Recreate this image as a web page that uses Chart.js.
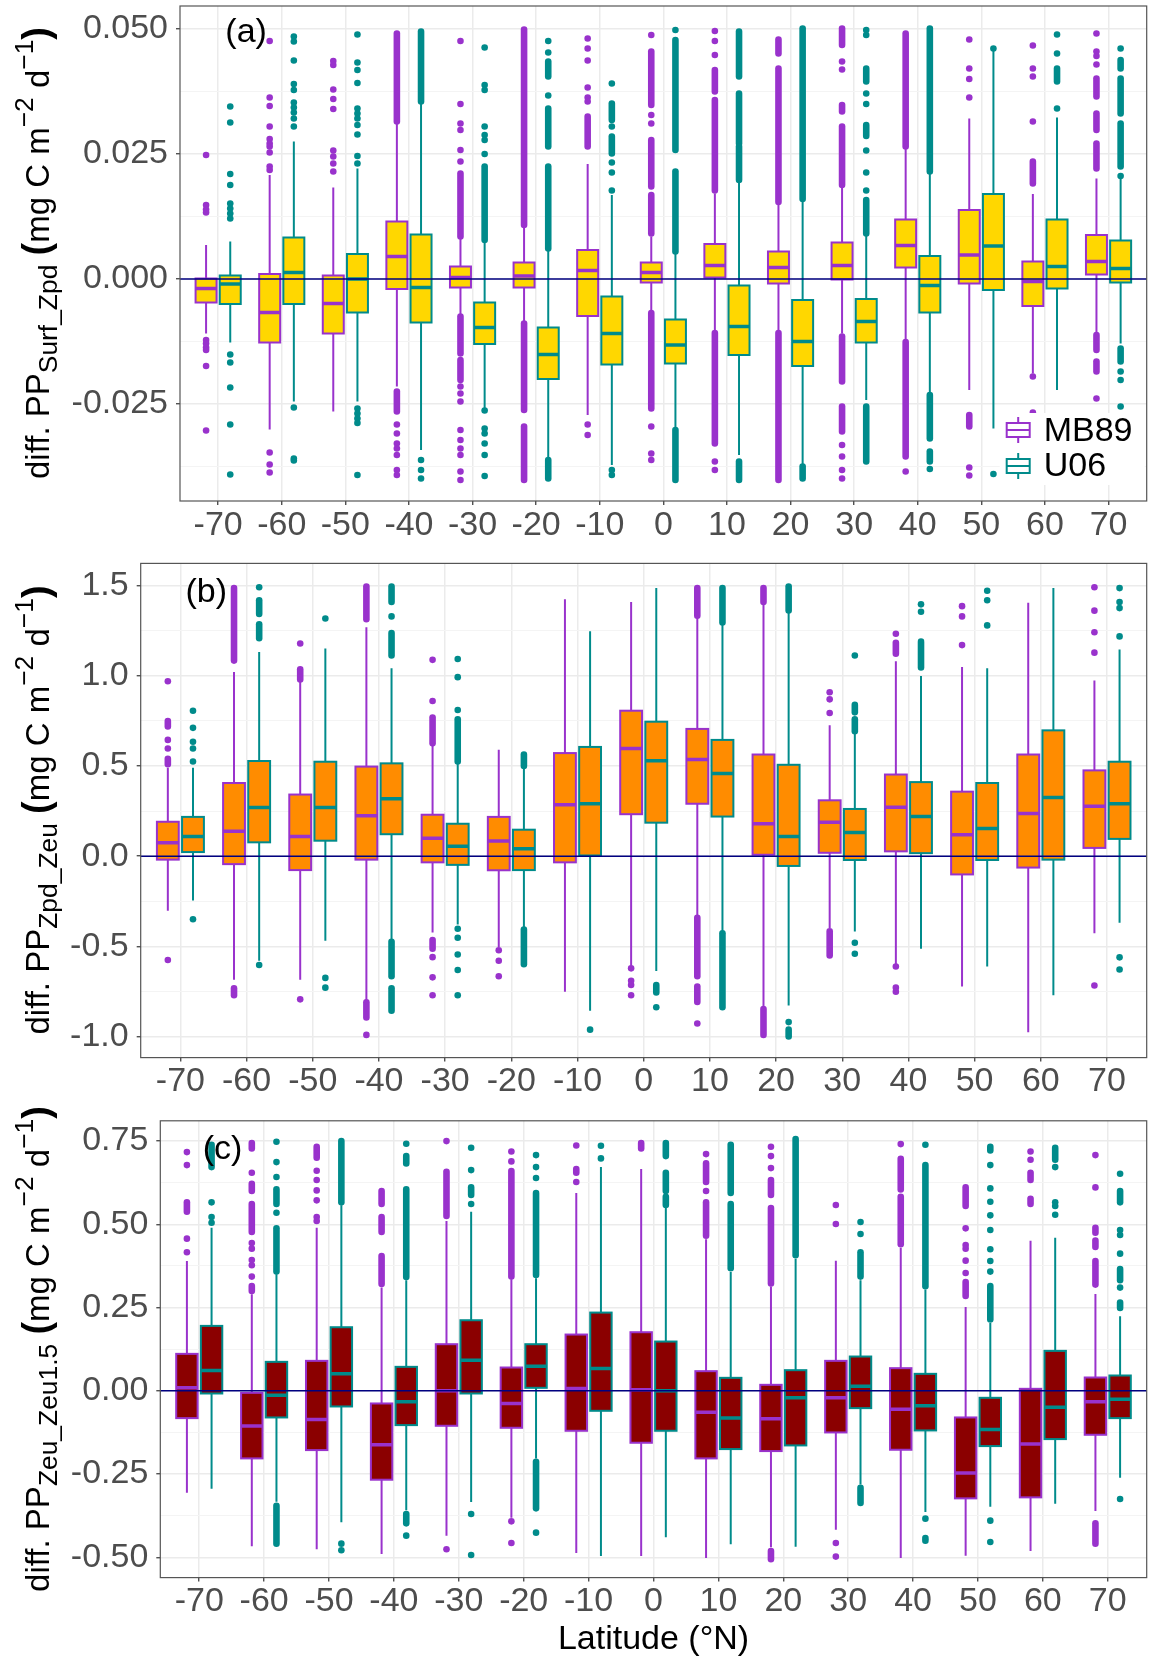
<!DOCTYPE html>
<html>
<head>
<meta charset="utf-8">
<script src="https://cdn.jsdelivr.net/npm/chart.js@4.4.0/dist/chart.umd.min.js"></script>
<style>
  body { margin: 0; background: #fff; width: 1150px; height: 1661px; position: relative; overflow: hidden;
         font-family: 'Liberation Sans', Arial, sans-serif; }
  canvas { position: absolute; left: 0; }
  .ytitle { position: absolute; white-space: nowrap; font-size: 33px; color: #000; line-height: 1;
            transform: translate(-50%, -50%) rotate(-90deg); }
  .ytitle sub { font-size: 0.8em; vertical-align: -0.3em; }
  .ytitle sup { font-size: 0.8em; vertical-align: 0.6em; }
  .paren { font-size: 1.15em; font-weight: bold; }
</style>
</head>
<body>
<canvas id="chartA" width="1150" height="546" style="top:0px"></canvas>
<canvas id="chartB" width="1150" height="554" style="top:546px"></canvas>
<canvas id="chartC" width="1150" height="561" style="top:1100px"></canvas>

<div class="ytitle" style="left:36px;top:253px">diff. PP<sub>Surf_Zpd</sub> <span class="paren">(</span>mg C m<sup>−2</sup> d<sup>−1</sup><span class="paren">)</span></div>
<div class="ytitle" style="left:36px;top:810px">diff. PP<sub>Zpd_Zeu</sub> <span class="paren">(</span>mg C m<sup>−2</sup> d<sup>−1</sup><span class="paren">)</span></div>
<div class="ytitle" style="left:36px;top:1349px">diff. PP<sub>Zeu_Zeu1.5</sub> <span class="paren">(</span>mg C m<sup>−2</sup> d<sup>−1</sup><span class="paren">)</span></div>

<script>
// Latitude bins (x axis)
const latitudes = [-70, -60, -50, -40, -30, -20, -10, 0, 10, 20, 30, 40, 50, 60, 70];
const xTickLabels = ['-70', '-60', '-50', '-40', '-30', '-20', '-10', '0', '10', '20', '30', '40', '50', '60', '70'];
const seriesNames = ['MB89', 'U06'];

// ---- panel (a) : PP Surf_Zpd ----
const aYTicks = [-0.025, 0, 0.025, 0.05];
const aYLabels = ['-0.025', '0.000', '0.025', '0.050'];
const aYMinor = [-0.0375, -0.0125, 0.0125, 0.0375];

const aMbQ3 = [0.0001, 0.001, 0.0007, 0.0115, 0.0025, 0.0033, 0.0058, 0.0033, 0.007, 0.0055, 0.0073, 0.0119, 0.0138, 0.0035, 0.0088];
const aMbMed = [-0.0019, -0.0067, -0.0049, 0.0045, 0.0003, 0.0006, 0.0017, 0.0013, 0.0027, 0.0023, 0.0027, 0.0067, 0.0048, -0.0005, 0.0035];
const aMbQ1 = [-0.0047, -0.0127, -0.0109, -0.002, -0.0017, -0.0017, -0.0074, -0.0007, 0.0003, -0.0009, -0.0001, 0.0023, -0.0009, -0.0054, 0.0009];
const aMbHi = [0.0068, 0.0208, 0.0183, 0.0311, 0.0081, 0.0105, 0.023, 0.0085, 0.0171, 0.0148, 0.0185, 0.0261, 0.0321, 0.017, 0.0201];
const aMbLo = [-0.0109, -0.0301, -0.0265, -0.0215, -0.0072, -0.0085, -0.0272, -0.0062, -0.0102, -0.0102, -0.0109, -0.0122, -0.0222, -0.0189, -0.0107];
const aMbPts = [
  [0.0248, 0.0148, 0.0139, 0.0133, -0.0122, -0.0129, -0.0137, -0.0142, -0.0174, -0.0303],
  [0.0476, 0.0363, 0.0346, 0.0305, 0.028, 0.0271, 0.0265, 0.0253, 0.0225, 0.0218, -0.0347, -0.0371, -0.0387],
  [0.0436, 0.0428, 0.0379, 0.036, 0.034, 0.0257, 0.0245, 0.0231, 0.0215],
  [-0.0291, -0.0309, -0.0329, -0.0339, -0.0352, -0.0382, -0.0392],
  [0.0476, 0.035, 0.0311, 0.0298, 0.0258, 0.0235, -0.0215, -0.0229, -0.0245, -0.0302, -0.0322, -0.0339, -0.0352, -0.0385, -0.0402],
  [],
  [0.0481, 0.0461, 0.0437, 0.0383, 0.0363, 0.0355, -0.0291, -0.0312],
  [0.0488, 0.0328, 0.0311, -0.0295, -0.0349, -0.0362],
  [0.0496, 0.0476, 0.0448, -0.0365, -0.0382],
  [],
  [0.0435, 0.0419, -0.0332, -0.0355, -0.0382, -0.0399],
  [-0.0385],
  [0.0479, 0.0421, 0.04, 0.0363, -0.0377, -0.0393],
  [0.0467, 0.0421, 0.0405, 0.0315, -0.0195, -0.0267],
  [0.0491, 0.0455, 0.0446, 0.0429, -0.0239]
];
// dense outlier stretches [from, to]
const aMbRuns = [
  [], [], [],
  [[0.0315, 0.0491], [-0.0265, -0.0225]],
  [[0.0085, 0.0211], [-0.0149, -0.0075], [-0.0202, -0.0162]],
  [[0.0108, 0.0499], [-0.0262, -0.0089], [-0.0402, -0.0295]],
  [[0.0265, 0.0325]],
  [[0.0348, 0.0455], [0.0185, 0.0278], [0.0091, 0.0168], [-0.0259, -0.0068]],
  [[0.0375, 0.0418], [0.0177, 0.0358], [-0.0329, -0.0108]],
  [[0.0451, 0.0479], [0.0154, 0.0421], [-0.0402, -0.0108]],
  [[0.0468, 0.0501], [0.0335, 0.0348], [0.0188, 0.0305], [-0.0205, -0.0115], [-0.0305, -0.0255]],
  [[0.0265, 0.0491], [-0.0355, -0.0126]],
  [[-0.0295, -0.0272]],
  [[0.0191, 0.0235]],
  [[0.0365, 0.0401], [0.0298, 0.0331], [0.0221, 0.0271], [-0.0142, -0.0112], [-0.0185, -0.0165]]
];

const aU6Q3 = [0.0007, 0.0083, 0.005, 0.0089, -0.0047, -0.0097, -0.0035, -0.0081, -0.0013, -0.0042, -0.004, 0.0046, 0.017, 0.0119, 0.0077];
const aU6Med = [-0.001, 0.0013, 0.0, -0.0017, -0.0097, -0.0151, -0.0109, -0.0132, -0.0095, -0.0125, -0.0085, -0.0013, 0.0066, 0.0025, 0.0021];
const aU6Q1 = [-0.005, -0.005, -0.0067, -0.0087, -0.013, -0.02, -0.0171, -0.0169, -0.0152, -0.0174, -0.0127, -0.0067, -0.0022, -0.0019, -0.0007];
const aU6Hi = [0.0075, 0.0275, 0.0221, 0.0351, 0.0075, 0.0058, 0.0168, 0.0051, 0.0195, 0.0155, 0.0088, 0.0211, 0.0458, 0.0323, 0.0205];
const aU6Lo = [-0.0127, -0.0245, -0.0245, -0.0342, -0.0259, -0.0359, -0.0372, -0.0299, -0.0352, -0.0372, -0.0242, -0.0229, -0.0299, -0.0222, -0.0129];
const aU6Pts = [
  [0.0345, 0.0313, 0.021, 0.0188, 0.0151, 0.0141, 0.0131, 0.0121, -0.0151, -0.0167, -0.0217, -0.0291, -0.0391],
  [0.0485, 0.0475, 0.0437, 0.039, 0.0378, 0.0353, 0.0343, 0.0333, 0.0321, 0.0305, -0.0257, -0.0359, -0.0363],
  [0.0489, 0.0433, 0.0418, 0.0392, 0.0341, 0.0331, 0.0321, 0.0308, 0.0289, 0.0246, 0.0231, -0.0259, -0.0269, -0.0279, -0.0288, -0.0392],
  [-0.0362, -0.0382, -0.0399],
  [0.0463, 0.0388, 0.0378, 0.0305, 0.0288, 0.0278, 0.025, -0.0263, -0.0299, -0.0309, -0.0329, -0.0352, -0.0394],
  [0.0476, 0.0453, 0.0367],
  [0.0391, 0.0305, 0.0233, 0.0213, 0.0177, -0.0382, -0.0392],
  [0.0498],
  [],
  [],
  [0.0498, 0.0488, 0.0371, 0.035, 0.0257, 0.0213, 0.0177],
  [-0.038],
  [0.0461, -0.039],
  [0.0489, 0.0451, 0.0341],
  [0.0461, 0.0206, -0.0185, -0.0202, -0.0255]
];
const aU6Runs = [
  [], [], [],
  [[0.0355, 0.0495]],
  [[0.0078, 0.0225]],
  [[0.0405, 0.0435], [0.0265, 0.0341], [0.0061, 0.0225], [-0.0399, -0.0362]],
  [[0.0318, 0.0351], [0.0251, 0.0285]],
  [[0.0258, 0.0478], [0.0055, 0.0215], [-0.0402, -0.0302]],
  [[0.0405, 0.0495], [0.0271, 0.0371], [0.0198, 0.0265], [-0.0402, -0.0365]],
  [[0.016, 0.0501], [-0.0399, -0.0375]],
  [[0.0395, 0.0421], [0.0286, 0.0308], [0.0091, 0.0158], [-0.0365, -0.0255]],
  [[0.0215, 0.0501], [-0.0319, -0.0232], [-0.0365, -0.0345]],
  [],
  [[0.0395, 0.0421]],
  [[0.0421, 0.0438], [0.0331, 0.0401], [0.0225, 0.0311], [-0.0165, -0.0139]]
];

// ---- panel (b) : PP Zpd_Zeu ----
const bYTicks = [-1, -0.5, 0, 0.5, 1, 1.5];
const bYLabels = ['-1.0', '-0.5', '0.0', '0.5', '1.0', '1.5'];
const bYMinor = [-0.75, -0.25, 0.25, 0.75, 1.25];

const bMbQ3 = [0.191, 0.406, 0.342, 0.497, 0.23, 0.218, 0.572, 0.807, 0.706, 0.564, 0.31, 0.453, 0.358, 0.564, 0.476];
const bMbMed = [0.075, 0.138, 0.109, 0.224, 0.099, 0.084, 0.285, 0.597, 0.536, 0.18, 0.189, 0.272, 0.119, 0.237, 0.277];
const bMbQ1 = [-0.019, -0.044, -0.077, -0.019, -0.034, -0.078, -0.034, 0.233, 0.291, 0.008, 0.019, 0.027, -0.101, -0.063, 0.046];
const bMbHi = [0.49, 1.022, 0.97, 1.27, 0.616, 0.591, 1.425, 1.41, 1.324, 1.4, 0.727, 1.081, 1.05, 1.406, 0.974];
const bMbLo = [-0.302, -0.685, -0.685, -0.8, -0.423, -0.503, -0.752, -0.608, -0.331, -0.838, -0.398, -0.599, -0.723, -0.976, -0.427];
const bMbPts = [
  [0.97, 0.645, 0.597, -0.576],
  [],
  [1.18, -0.794],
  [-0.991],
  [1.089, 0.861, -0.56, -0.672, -0.771],
  [-0.522, -0.58, -0.666],
  [],
  [-0.622, -0.691, -0.714, -0.771],
  [-0.928],
  [],
  [0.909, 0.87, 0.794],
  [1.234, -0.612, -0.729, -0.752],
  [1.387, 1.33, 1.171],
  [],
  [1.492, 1.362, 1.242, 1.129, -0.717]
];
const bMbRuns = [
  [[0.72, 0.75], [0.51, 0.54]],
  [[1.085, 1.487], [-0.771, -0.733]],
  [[0.98, 1.037]],
  [[1.314, 1.496], [-0.895, -0.81]],
  [[0.626, 0.769], [-0.513, -0.465]],
  [], [], [],
  [[1.334, 1.487], [-0.666, -0.341], [-0.809, -0.723]],
  [[1.41, 1.487], [-0.991, -0.848]],
  [[-0.551, -0.417]],
  [[1.123, 1.184]],
  [], [], []
];

const bU6Q3 = [0.218, 0.528, 0.524, 0.515, 0.18, 0.147, 0.606, 0.746, 0.645, 0.507, 0.262, 0.411, 0.406, 0.698, 0.524];
const bU6Med = [0.109, 0.27, 0.27, 0.319, 0.055, 0.042, 0.291, 0.53, 0.459, 0.109, 0.132, 0.22, 0.153, 0.325, 0.291];
const bU6Q1 = [0.023, 0.077, 0.086, 0.122, -0.048, -0.077, 0.004, 0.186, 0.22, -0.054, -0.021, 0.017, -0.021, -0.019, 0.096];
const bU6Hi = [0.49, 1.133, 1.152, 1.043, 0.515, 0.492, 1.247, 1.487, 1.286, 1.353, 0.683, 0.999, 1.043, 1.487, 1.146];
const bU6Lo = [-0.245, -0.58, -0.469, -0.465, -0.379, -0.398, -0.857, -0.637, -0.417, -0.828, -0.417, -0.513, -0.612, -0.771, -0.369];
const bU6Pts = [
  [0.807, 0.712, 0.635, 0.597, 0.525, -0.35],
  [1.492, -0.603],
  [1.318, -0.675, -0.729],
  [1.33],
  [1.094, 0.993, 0.811, -0.402, -0.452, -0.545, -0.631, -0.771],
  [],
  [-0.962],
  [-0.838],
  [],
  [-0.92],
  [1.113, -0.48, -0.541],
  [1.397, 1.356],
  [1.472, 1.42, 1.28],
  [],
  [1.487, 1.41, 1.376, 1.219, -0.561, -0.628]
];
const bU6Runs = [
  [],
  [[1.343, 1.42], [1.209, 1.286]],
  [],
  [[1.41, 1.496], [1.113, 1.238], [-0.666, -0.475], [-0.857, -0.733]],
  [[0.525, 0.76]],
  [[0.5, 0.564], [-0.599, -0.407]],
  [],
  [[-0.756, -0.714]],
  [[1.296, 1.487], [-0.838, -0.427]],
  [[1.363, 1.496], [-1.0, -0.962]],
  [[0.798, 0.84], [0.693, 0.76]],
  [[1.047, 1.19]],
  [], [], []
];

// ---- panel (c) : PP Zeu_Zeu1.5 ----
const cYTicks = [-0.5, -0.25, 0, 0.25, 0.5, 0.75];
const cYLabels = ['-0.50', '-0.25', '0.00', '0.25', '0.50', '0.75'];
const cYMinor = [-0.375, -0.125, 0.125, 0.375, 0.625];

const cMbQ3 = [0.111, -0.006, 0.09, -0.038, 0.14, 0.07, 0.169, 0.176, 0.059, 0.018, 0.09, 0.068, -0.08, 0.006, 0.04];
const cMbMed = [0.009, -0.106, -0.086, -0.162, 0.0, -0.038, 0.007, 0.003, -0.064, -0.084, -0.021, -0.055, -0.247, -0.16, -0.033];
const cMbQ1 = [-0.082, -0.203, -0.178, -0.267, -0.105, -0.111, -0.12, -0.156, -0.203, -0.181, -0.125, -0.177, -0.323, -0.32, -0.132];
const cMbHi = [0.39, 0.29, 0.49, 0.31, 0.51, 0.334, 0.594, 0.666, 0.455, 0.312, 0.391, 0.43, 0.252, 0.451, 0.291];
const cMbLo = [-0.306, -0.467, -0.476, -0.49, -0.435, -0.381, -0.487, -0.496, -0.502, -0.47, -0.417, -0.502, -0.495, -0.481, -0.361];
const cMbPts = [
  [0.717, 0.678, 0.457, 0.416],
  [0.655, 0.444, 0.427, 0.393, 0.377, 0.343],
  [0.661, 0.633, 0.602, 0.572, 0.522, 0.51],
  [],
  [0.75, -0.476],
  [0.719, 0.689, -0.392, -0.457],
  [0.737, 0.627],
  [],
  [0.711, 0.6],
  [0.733, 0.705, 0.669],
  [0.558, 0.501, -0.457, -0.498],
  [0.741],
  [0.488, 0.438, 0.427, 0.391, 0.354],
  [0.719, 0.694],
  [0.708, 0.611]
];
const cMbRuns = [
  [[0.538, 0.566]],
  [[0.728, 0.744], [0.6, 0.622], [0.477, 0.561], [0.3, 0.315]],
  [[0.7, 0.733]],
  [[0.561, 0.6], [0.477, 0.522], [0.321, 0.405]],
  [[0.525, 0.658]],
  [[0.343, 0.66]],
  [[0.655, 0.666]],
  [[0.728, 0.744]],
  [[0.627, 0.683], [0.466, 0.566]],
  [[0.588, 0.633], [0.322, 0.549], [-0.506, -0.481]],
  [],
  [[0.605, 0.697], [0.44, 0.583]],
  [[0.555, 0.611], [0.285, 0.327]],
  [[0.633, 0.655], [0.561, 0.577]],
  [[0.475, 0.49], [0.432, 0.451], [0.319, 0.39], [-0.459, -0.398]]
];

const cU6Q3 = [0.195, 0.087, 0.191, 0.072, 0.212, 0.14, 0.235, 0.148, 0.039, 0.062, 0.103, 0.051, -0.021, 0.12, 0.046];
const cU6Med = [0.061, -0.013, 0.051, -0.033, 0.092, 0.074, 0.067, 0.0, -0.082, -0.021, 0.014, -0.045, -0.116, -0.049, -0.025];
const cU6Q1 = [-0.008, -0.08, -0.047, -0.103, -0.008, 0.009, -0.06, -0.12, -0.175, -0.164, -0.052, -0.119, -0.166, -0.145, -0.082];
const cU6Hi = [0.49, 0.349, 0.557, 0.332, 0.538, 0.338, 0.672, 0.549, 0.357, 0.397, 0.332, 0.304, 0.204, 0.46, 0.224];
const cU6Lo = [-0.294, -0.333, -0.395, -0.359, -0.334, -0.203, -0.496, -0.44, -0.461, -0.468, -0.281, -0.364, -0.348, -0.339, -0.261];
const cU6Pts = [
  [0.566, 0.522, 0.505],
  [0.748, 0.687, 0.642, 0.535],
  [-0.459, -0.479],
  [0.742, -0.435],
  [0.73, 0.663, 0.561, -0.37, -0.493],
  [0.708, 0.672, 0.639, -0.426],
  [0.736, 0.698],
  [],
  [],
  [],
  [0.507, 0.471],
  [0.739, -0.384, -0.442, -0.45],
  [0.678, 0.608, 0.568, 0.527, 0.483, 0.425, 0.39, 0.358, -0.39, -0.454],
  [0.672, 0.566, 0.555, 0.529],
  [0.652, 0.483, 0.468, 0.412, 0.31, -0.325]
];
const cU6Runs = [
  [[0.672, 0.739]],
  [[0.561, 0.605], [0.358, 0.488], [-0.459, -0.345]],
  [[0.566, 0.75]],
  [[0.683, 0.705], [0.342, 0.605], [-0.398, -0.37]],
  [[0.588, 0.611]],
  [[0.348, 0.594], [-0.353, -0.213]],
  [],
  [[0.705, 0.744], [0.6, 0.655], [0.558, 0.583]],
  [[0.594, 0.739], [0.368, 0.561]],
  [[0.407, 0.756]],
  [[0.343, 0.416], [-0.337, -0.291]],
  [[0.314, 0.678]],
  [[0.722, 0.733], [0.214, 0.315]],
  [[0.694, 0.73]],
  [[0.566, 0.6], [0.332, 0.366], [0.249, 0.265]]
];

// ---- styling ----
const FONT = "'Liberation Sans', Arial, sans-serif";
const MB_COLOR = '#9932CC';
const U6_COLOR = '#008B8B';
const DODGE = 1.9;     // half distance between the two boxes, in degrees
const BOX_W = 3.3;     // box width, in degrees
const POINT_R = 3.3;

function outlierPoints(pts, shift) {
  const out = [];
  pts.forEach((list, i) => list.forEach(v => out.push({ x: latitudes[i] + shift, y: v })));
  return out;
}

function drawKey(ctx, left, cy, color) {
  ctx.save();
  ctx.strokeStyle = color;
  ctx.lineWidth = 2;
  ctx.fillStyle = '#fff';
  ctx.fillRect(left, cy - 7, 23, 14);
  ctx.strokeRect(left, cy - 7, 23, 14);
  ctx.beginPath();
  ctx.moveTo(left + 11.5, cy - 13); ctx.lineTo(left + 11.5, cy - 7);
  ctx.moveTo(left + 11.5, cy + 7); ctx.lineTo(left + 11.5, cy + 13);
  ctx.moveTo(left, cy); ctx.lineTo(left + 23, cy);
  ctx.stroke();
  ctx.restore();
}

function boxPlugin(panel) {
  return {
    id: 'boxes' + panel.tag,
    beforeDatasetsDraw(chart) {
      const { ctx, chartArea: area, scales: { x, y } } = chart;
      ctx.save();
      ctx.beginPath();
      ctx.rect(area.left, area.top, area.right - area.left, area.bottom - area.top);
      ctx.clip();
      panel.series.forEach(s => {
        latitudes.forEach((lat, i) => {
          const cx = x.getPixelForValue(lat + s.shift);
          const half = x.getPixelForValue(lat + s.shift + BOX_W / 2) - cx;
          // dense outlier stretches
          ctx.strokeStyle = s.color;
          ctx.lineCap = 'round';
          ctx.lineWidth = POINT_R * 2;
          s.runs[i].forEach(r => {
            ctx.beginPath();
            ctx.moveTo(cx, y.getPixelForValue(r[0]));
            ctx.lineTo(cx, y.getPixelForValue(r[1]));
            ctx.stroke();
          });
          // whiskers
          ctx.lineCap = 'butt';
          ctx.lineWidth = 2;
          ctx.beginPath();
          ctx.moveTo(cx, y.getPixelForValue(s.hi[i]));
          ctx.lineTo(cx, y.getPixelForValue(s.q3[i]));
          ctx.moveTo(cx, y.getPixelForValue(s.q1[i]));
          ctx.lineTo(cx, y.getPixelForValue(s.lo[i]));
          ctx.stroke();
          // box
          const top = y.getPixelForValue(s.q3[i]);
          const bot = y.getPixelForValue(s.q1[i]);
          ctx.fillStyle = panel.fill;
          ctx.fillRect(cx - half, top, half * 2, bot - top);
          ctx.strokeRect(cx - half, top, half * 2, bot - top);
          // median
          ctx.lineWidth = 3.5;
          const m = y.getPixelForValue(s.med[i]);
          ctx.beginPath();
          ctx.moveTo(cx - half, m);
          ctx.lineTo(cx + half, m);
          ctx.stroke();
        });
      });
      ctx.restore();
    },
    afterDatasetsDraw(chart) {
      const { ctx, chartArea: area, scales: { x, y } } = chart;
      ctx.save();
      // zero line
      const y0 = y.getPixelForValue(0);
      ctx.strokeStyle = '#000080';
      ctx.lineWidth = 1.5;
      ctx.beginPath();
      ctx.moveTo(area.left, y0);
      ctx.lineTo(area.right, y0);
      ctx.stroke();
      // panel tag
      ctx.fillStyle = '#000';
      ctx.font = '34px ' + FONT;
      ctx.textAlign = 'center';
      ctx.textBaseline = 'middle';
      ctx.fillText(panel.tag, x.getPixelForValue(panel.tagAt[0]), y.getPixelForValue(panel.tagAt[1]));
      // legend
      if (panel.legend) {
        const r = area.right, b = area.bottom;
        ctx.fillStyle = '#fff';
        ctx.fillRect(r - 147, b - 88, 145, 72);
        drawKey(ctx, r - 140, b - 71, MB_COLOR);
        drawKey(ctx, r - 140, b - 35, U6_COLOR);
        ctx.fillStyle = '#000';
        ctx.textAlign = 'left';
        ctx.fillText(seriesNames[0], r - 103, b - 69);
        ctx.fillText(seriesNames[1], r - 103, b - 34);
      }
      // panel border
      ctx.strokeStyle = '#555555';
      ctx.lineWidth = 1.2;
      ctx.strokeRect(area.left, area.top, area.right - area.left, area.bottom - area.top);
      ctx.restore();
    }
  };
}

function makeChart(canvasId, panel) {
  const yAll = panel.yTicks.map(v => ({ value: v, major: true }))
    .concat(panel.yMinor.map(v => ({ value: v, major: false })))
    .sort((p, q) => p.value - q.value);

  return new Chart(document.getElementById(canvasId), {
    type: 'scatter',
    data: {
      datasets: panel.series.map(s => ({
        label: s.name,
        data: outlierPoints(s.pts, s.shift),
        pointRadius: POINT_R,
        pointHoverRadius: POINT_R,
        backgroundColor: s.color,
        borderWidth: 0
      }))
    },
    options: {
      responsive: false,
      animation: false,
      devicePixelRatio: 1,
      events: [],
      layout: { padding: { top: panel.padTop, right: 2, left: 0, bottom: 0 } },
      plugins: { legend: { display: false }, tooltip: { enabled: false } },
      scales: {
        x: {
          type: 'linear',
          min: -76,
          max: 76,
          afterBuildTicks: axis => { axis.ticks = latitudes.map(v => ({ value: v })); },
          afterFit: axis => { axis.height = panel.xAxisH; axis.paddingLeft = 0; axis.paddingRight = 0; },
          ticks: {
            autoSkip: false, maxRotation: 0, minRotation: 0, padding: 0,
            color: '#4D4D4D', font: { family: FONT, size: 34 },
            callback: (v, i) => xTickLabels[i]
          },
          grid: { color: '#EBEBEB', lineWidth: 1.5, tickColor: '#333333', tickLength: 4, tickWidth: 1.2 },
          border: { display: false },
          title: panel.xTitle
            ? { display: true, text: panel.xTitle, color: '#000', font: { family: FONT, size: 34 }, padding: { top: 0, bottom: 1 } }
            : { display: false }
        },
        y: {
          type: 'linear',
          min: panel.yMin,
          max: panel.yMax,
          afterBuildTicks: axis => { axis.ticks = yAll.map(t => ({ value: t.value, major: t.major })); },
          afterFit: axis => { axis.width = panel.yAxisW; axis.paddingTop = 0; axis.paddingBottom = 0; },
          ticks: {
            autoSkip: false, padding: 8,
            color: '#4D4D4D', font: { family: FONT, size: 34 },
            callback: (v, i, ticks) => ticks[i].major ? panel.yLabels[panel.yTicks.indexOf(v)] : ''
          },
          grid: {
            color: c => (c.tick && c.tick.major) ? '#EBEBEB' : '#F4F4F4',
            lineWidth: c => (c.tick && c.tick.major) ? 1.5 : 1,
            tickColor: c => (c.tick && c.tick.major) ? '#333333' : 'rgba(0,0,0,0)',
            tickLength: 4,
            tickWidth: 1.2
          },
          border: { display: false }
        }
      }
    },
    plugins: [boxPlugin(panel)]
  });
}

makeChart('chartA', {
  tag: '(a)', tagAt: [-65.6, 0.0492], legend: true,
  fill: '#FFD700', yMin: -0.0444, yMax: 0.0546,
  yTicks: aYTicks, yLabels: aYLabels, yMinor: aYMinor,
  padTop: 6, xAxisH: 45, yAxisW: 180,
  series: [
    { name: seriesNames[0], color: MB_COLOR, shift: -DODGE, q1: aMbQ1, med: aMbMed, q3: aMbQ3, lo: aMbLo, hi: aMbHi, pts: aMbPts, runs: aMbRuns },
    { name: seriesNames[1], color: U6_COLOR, shift: DODGE, q1: aU6Q1, med: aU6Med, q3: aU6Q3, lo: aU6Lo, hi: aU6Hi, pts: aU6Pts, runs: aU6Runs }
  ]
});

makeChart('chartB', {
  tag: '(b)', tagAt: [-66.1, 1.46], legend: false,
  fill: '#FF8C00', yMin: -1.117, yMax: 1.624,
  yTicks: bYTicks, yLabels: bYLabels, yMinor: bYMinor,
  padTop: 17.4, xAxisH: 42.4, yAxisW: 140.7,
  series: [
    { name: seriesNames[0], color: MB_COLOR, shift: -DODGE, q1: bMbQ1, med: bMbMed, q3: bMbQ3, lo: bMbLo, hi: bMbHi, pts: bMbPts, runs: bMbRuns },
    { name: seriesNames[1], color: U6_COLOR, shift: DODGE, q1: bU6Q1, med: bU6Med, q3: bU6Q3, lo: bU6Lo, hi: bU6Hi, pts: bU6Pts, runs: bU6Runs }
  ]
});

makeChart('chartC', {
  tag: '(c)', tagAt: [-66.4, 0.723], legend: false, xTitle: 'Latitude (°N)',
  fill: '#8B0000', yMin: -0.561, yMax: 0.811,
  yTicks: cYTicks, yLabels: cYLabels, yMinor: cYMinor,
  padTop: 20.8, xAxisH: 83.4, yAxisW: 160.3,
  series: [
    { name: seriesNames[0], color: MB_COLOR, shift: -DODGE, q1: cMbQ1, med: cMbMed, q3: cMbQ3, lo: cMbLo, hi: cMbHi, pts: cMbPts, runs: cMbRuns },
    { name: seriesNames[1], color: U6_COLOR, shift: DODGE, q1: cU6Q1, med: cU6Med, q3: cU6Q3, lo: cU6Lo, hi: cU6Hi, pts: cU6Pts, runs: cU6Runs }
  ]
});
</script>
</body>
</html>
